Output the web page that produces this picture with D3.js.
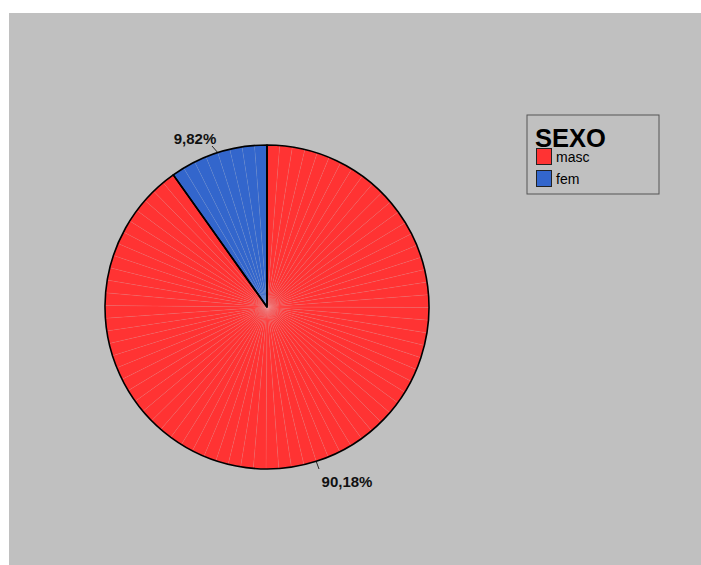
<!DOCTYPE html>
<html>
<head>
<meta charset="utf-8">
<script src="https://cdn.jsdelivr.net/npm/d3@7/dist/d3.min.js"></script>
<style>
  html, body { margin: 0; padding: 0; background: #ffffff; }
  svg { display: block; font-family: "Liberation Sans", Arial, sans-serif; }
</style>
</head>
<body>
<svg id="chart" width="701" height="565"></svg>
<script>
// SEXO distribution (percent)
const categories = ["masc", "fem"];
const values = [90.18, 9.82];
const valueLabels = ["90,18%", "9,82%"];
const colors = ["#ff3333", "#3366cc"];
const legendTitle = "SEXO";

const svg = d3.select("#chart");
const W = 701, H = 565;

// chart panel
svg.append("rect")
  .attr("x", 9).attr("y", 13)
  .attr("width", W - 9).attr("height", H - 13)
  .attr("fill", "#c0c0c0");

const cx = 267, cy = 307, R = 162;
const g = svg.append("g").attr("transform", `translate(${cx},${cy})`);

const pie = d3.pie().sort(null).value(d => d.value);
const data = categories.map((c, i) => ({ name: c, value: values[i], color: colors[i], label: valueLabels[i] }));
const arcs = pie(data);
const arc = d3.arc().innerRadius(0).outerRadius(R);

// fill each slice as a fan of thin wedges (faint seams between them)
const step = Math.PI * 2 / 80;
arcs.forEach(a => {
  const n = Math.max(1, Math.round((a.endAngle - a.startAngle) / step));
  const d = (a.endAngle - a.startAngle) / n;
  const sub = d3.range(n).map(k => ({ startAngle: a.startAngle + k * d, endAngle: a.startAngle + (k + 1) * d }));
  g.selectAll(null).data(sub).enter().append("path")
    .attr("d", arc)
    .attr("fill", a.data.color)
    .attr("stroke", "rgba(255,255,255,0.12)")
    .attr("stroke-width", 0.5);
});

// slice outlines
g.selectAll(".outline").data(arcs).enter().append("path")
  .attr("class", "outline")
  .attr("d", arc)
  .attr("fill", "none")
  .attr("stroke", "#000")
  .attr("stroke-width", 1.6)
  .attr("stroke-linejoin", "round");

// value labels with short leader lines
const labelPos = [
  { tx: 347, ty: 487, lx1: 319, ly1: 469 },
  { tx: 195, ty: 144, lx1: 212, ly1: 146 }
];
arcs.forEach((a, i) => {
  const mid = (a.startAngle + a.endAngle) / 2;
  const ex = Math.sin(mid) * R, ey = -Math.cos(mid) * R;
  const p = labelPos[i];
  svg.append("line")
    .attr("x1", p.lx1).attr("y1", p.ly1)
    .attr("x2", cx + ex).attr("y2", cy + ey)
    .attr("stroke", "#000").attr("stroke-width", 0.8);
  svg.append("text")
    .attr("x", p.tx).attr("y", p.ty)
    .attr("text-anchor", "middle")
    .attr("font-size", 15).attr("font-weight", "bold")
    .attr("fill", "#111")
    .text(a.data.label);
});

// legend
const lg = svg.append("g");
lg.append("rect")
  .attr("x", 527).attr("y", 115).attr("width", 132).attr("height", 79)
  .attr("fill", "none").attr("stroke", "#555").attr("stroke-width", 1);
lg.append("text")
  .attr("x", 535).attr("y", 147)
  .attr("font-size", 25.5).attr("font-weight", "bold").attr("fill", "#000")
  .text(legendTitle);
data.forEach((d, i) => {
  const y = 148 + i * 22;
  lg.append("rect")
    .attr("x", 536.5).attr("y", y + 0.5).attr("width", 15).attr("height", 16)
    .attr("fill", d.color).attr("stroke", "#222").attr("stroke-width", 1);
  lg.append("text")
    .attr("x", 556).attr("y", y + 14)
    .attr("font-size", 14).attr("fill", "#000")
    .text(d.name);
});
</script>
</body>
</html>
